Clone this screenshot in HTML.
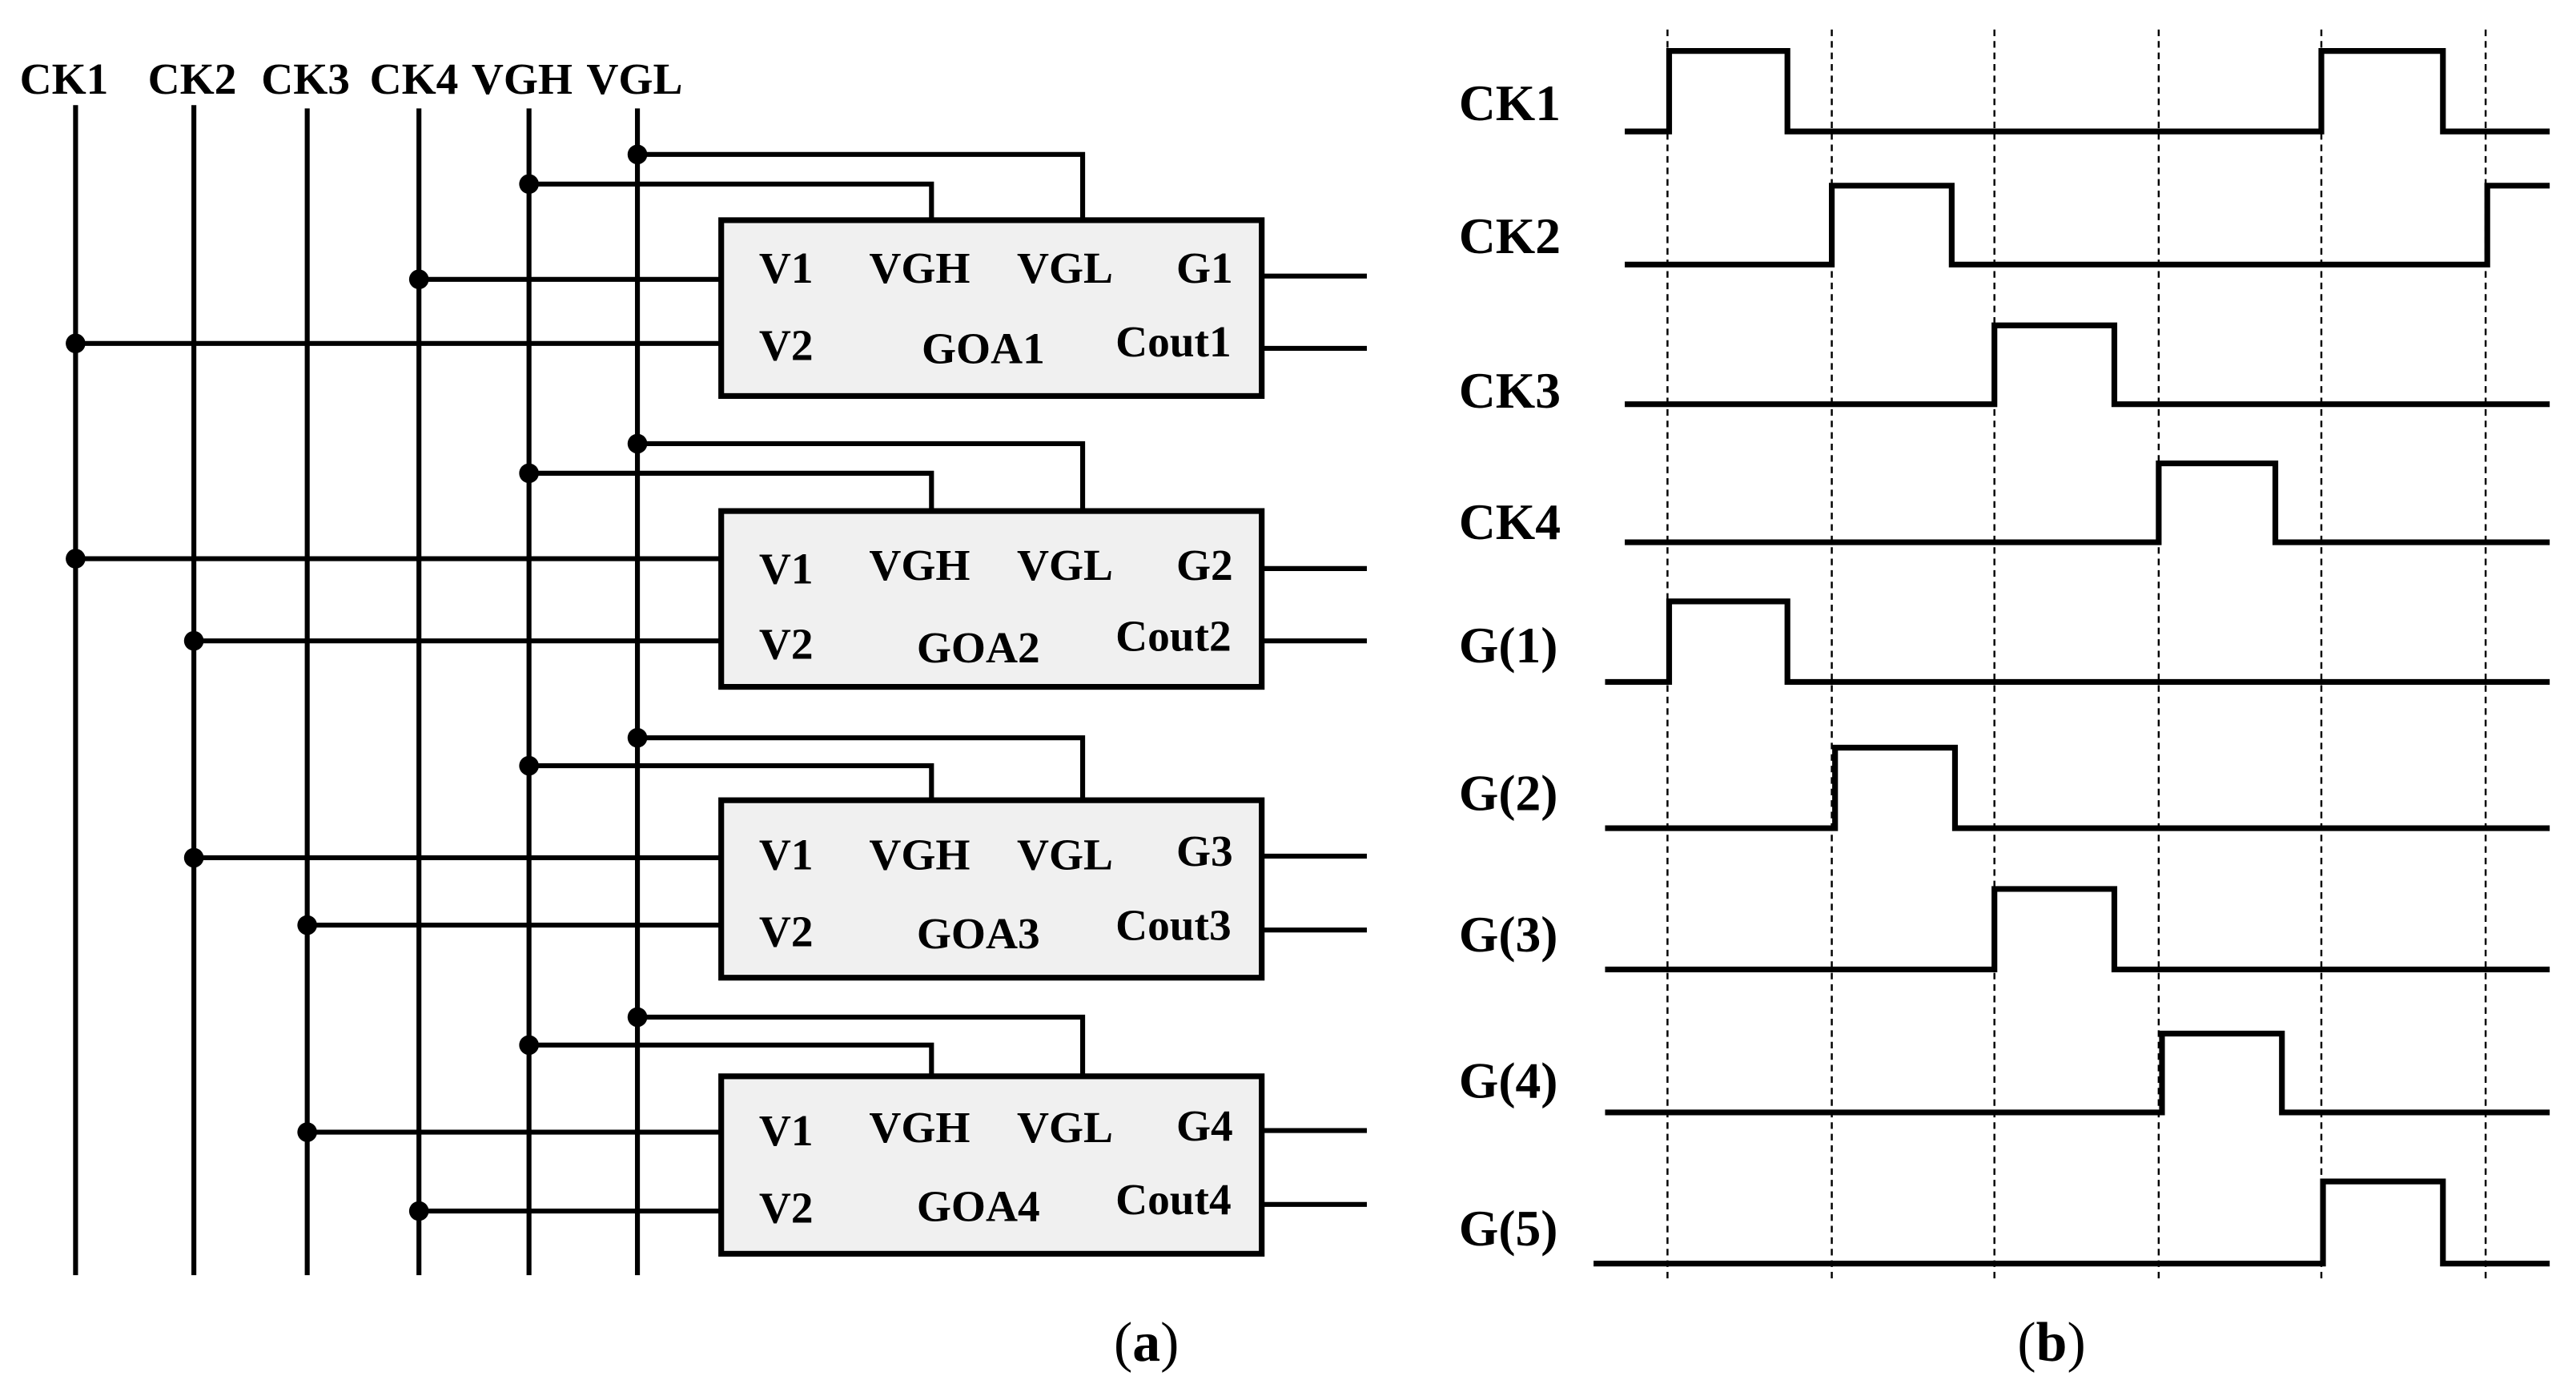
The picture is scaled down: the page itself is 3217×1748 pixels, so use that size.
<!DOCTYPE html>
<html><head><meta charset="utf-8"><style>
html,body{margin:0;padding:0;background:#fff;}
svg{display:block;}
text{font-family:"Liberation Serif",serif;font-weight:bold;fill:#000;}
</style></head><body>
<svg width="3217" height="1748" viewBox="0 0 1568 852" xmlns="http://www.w3.org/2000/svg">
<rect width="1568" height="852" fill="#fff"/>
<g font-size="27">
<text x="12" y="57">CK1</text>
<text x="90" y="57">CK2</text>
<text x="159" y="57">CK3</text>
<text x="225" y="57">CK4</text>
<text x="287" y="57">VGH</text>
<text x="357" y="57">VGL</text>
</g>
<g stroke="#000" stroke-width="3" fill="none">
<line x1="46" y1="64" x2="46" y2="776"/>
<line x1="118" y1="64" x2="118" y2="776"/>
<line x1="187" y1="66" x2="187" y2="776"/>
<line x1="255" y1="66" x2="255" y2="776"/>
<line x1="322" y1="66" x2="322" y2="776"/>
<line x1="388" y1="66" x2="388" y2="776"/>
</g>
<g id="blocks" stroke="#000" stroke-width="3" fill="none">
<!-- GOA1 -->
<polyline points="388,94 659,94 659,133"/>
<polyline points="322,112 567,112 567,133"/>
<line x1="255" y1="170" x2="438" y2="170"/>
<line x1="46" y1="209" x2="438" y2="209"/>
<line x1="768" y1="168" x2="832" y2="168"/>
<line x1="768" y1="212" x2="832" y2="212"/>
<rect x="439" y="134" width="329" height="107" fill="#f0f0f0" stroke-width="3.5"/>
<!-- GOA2 -->
<polyline points="388,270 659,270 659,311"/>
<polyline points="322,288 567,288 567,311"/>
<line x1="46" y1="340" x2="438" y2="340"/>
<line x1="118" y1="390" x2="438" y2="390"/>
<line x1="768" y1="346" x2="832" y2="346"/>
<line x1="768" y1="390" x2="832" y2="390"/>
<rect x="439" y="311" width="329" height="107" fill="#f0f0f0" stroke-width="3.5"/>
<!-- GOA3 -->
<polyline points="388,449 659,449 659,487"/>
<polyline points="322,466 567,466 567,487"/>
<line x1="118" y1="522" x2="438" y2="522"/>
<line x1="187" y1="563" x2="438" y2="563"/>
<line x1="768" y1="521" x2="832" y2="521"/>
<line x1="768" y1="566" x2="832" y2="566"/>
<rect x="439" y="487" width="329" height="108" fill="#f0f0f0" stroke-width="3.5"/>
<!-- GOA4 -->
<polyline points="388,619 659,619 659,655"/>
<polyline points="322,636 567,636 567,655"/>
<line x1="187" y1="689" x2="438" y2="689"/>
<line x1="255" y1="737" x2="438" y2="737"/>
<line x1="768" y1="688" x2="832" y2="688"/>
<line x1="768" y1="733" x2="832" y2="733"/>
<rect x="439" y="655" width="329" height="108" fill="#f0f0f0" stroke-width="3.5"/>
</g>
<g fill="#000">
<circle cx="388" cy="94" r="6"/><circle cx="322" cy="112" r="6"/><circle cx="255" cy="170" r="6"/><circle cx="46" cy="209" r="6"/>
<circle cx="388" cy="270" r="6"/><circle cx="322" cy="288" r="6"/><circle cx="46" cy="340" r="6"/><circle cx="118" cy="390" r="6"/>
<circle cx="388" cy="449" r="6"/><circle cx="322" cy="466" r="6"/><circle cx="118" cy="522" r="6"/><circle cx="187" cy="563" r="6"/>
<circle cx="388" cy="619" r="6"/><circle cx="322" cy="636" r="6"/><circle cx="187" cy="689" r="6"/><circle cx="255" cy="737" r="6"/>
</g>
<g font-size="27">
<text x="462" y="172">V1</text><text x="529" y="172">VGH</text><text x="619" y="172">VGL</text><text x="716" y="172">G1</text>
<text x="462" y="219">V2</text><text x="561" y="221">GOA1</text><text x="679" y="217">Cout1</text>
<text x="462" y="355">V1</text><text x="529" y="353">VGH</text><text x="619" y="353">VGL</text><text x="716" y="353">G2</text>
<text x="462" y="401">V2</text><text x="558" y="403">GOA2</text><text x="679" y="396">Cout2</text>
<text x="462" y="529">V1</text><text x="529" y="529">VGH</text><text x="619" y="529">VGL</text><text x="716" y="527">G3</text>
<text x="462" y="576">V2</text><text x="558" y="577">GOA3</text><text x="679" y="572">Cout3</text>
<text x="462" y="697">V1</text><text x="529" y="695">VGH</text><text x="619" y="695">VGL</text><text x="716" y="694">G4</text>
<text x="462" y="744">V2</text><text x="558" y="743">GOA4</text><text x="679" y="739">Cout4</text>
</g>
<!-- timing -->
<g stroke="#000" stroke-width="1.2" stroke-dasharray="4,3">
<line x1="1015" y1="18" x2="1015" y2="780"/>
<line x1="1115" y1="18" x2="1115" y2="780"/>
<line x1="1214" y1="18" x2="1214" y2="780"/>
<line x1="1314" y1="18" x2="1314" y2="780"/>
<line x1="1413" y1="18" x2="1413" y2="780"/>
<line x1="1513" y1="18" x2="1513" y2="780"/>
</g>
<g stroke="#000" stroke-width="3.5" fill="none">
<polyline points="989,80 1016,80 1016,31 1088,31 1088,80 1413,80 1413,31 1487,31 1487,80 1552,80"/>
<polyline points="989,161 1115,161 1115,113 1188,113 1188,161 1514,161 1514,113 1552,113"/>
<polyline points="989,246 1214,246 1214,198 1287,198 1287,246 1552,246"/>
<polyline points="989,330 1314,330 1314,282 1385,282 1385,330 1552,330"/>
<polyline points="977,415 1016,415 1016,366 1088,366 1088,415 1552,415"/>
<polyline points="977,504 1117,504 1117,455 1190,455 1190,504 1552,504"/>
<polyline points="977,590 1214,590 1214,541 1287,541 1287,590 1552,590"/>
<polyline points="977,677 1316,677 1316,629 1389,629 1389,677 1552,677"/>
<polyline points="970,769 1414,769 1414,719 1487,719 1487,769 1552,769"/>
</g>
<g font-size="31">
<text x="888" y="73">CK1</text>
<text x="888" y="154">CK2</text>
<text x="888" y="248">CK3</text>
<text x="888" y="328">CK4</text>
<text x="888" y="403">G(1)</text>
<text x="888" y="493">G(2)</text>
<text x="888" y="579">G(3)</text>
<text x="888" y="668">G(4)</text>
<text x="888" y="758">G(5)</text>
</g>
<text x="678" y="828" font-size="34" style="font-weight:normal">(<tspan font-weight="bold">a</tspan>)</text>
<text x="1228" y="828" font-size="34" style="font-weight:normal">(<tspan font-weight="bold">b</tspan>)</text>
</svg>
</body></html>
